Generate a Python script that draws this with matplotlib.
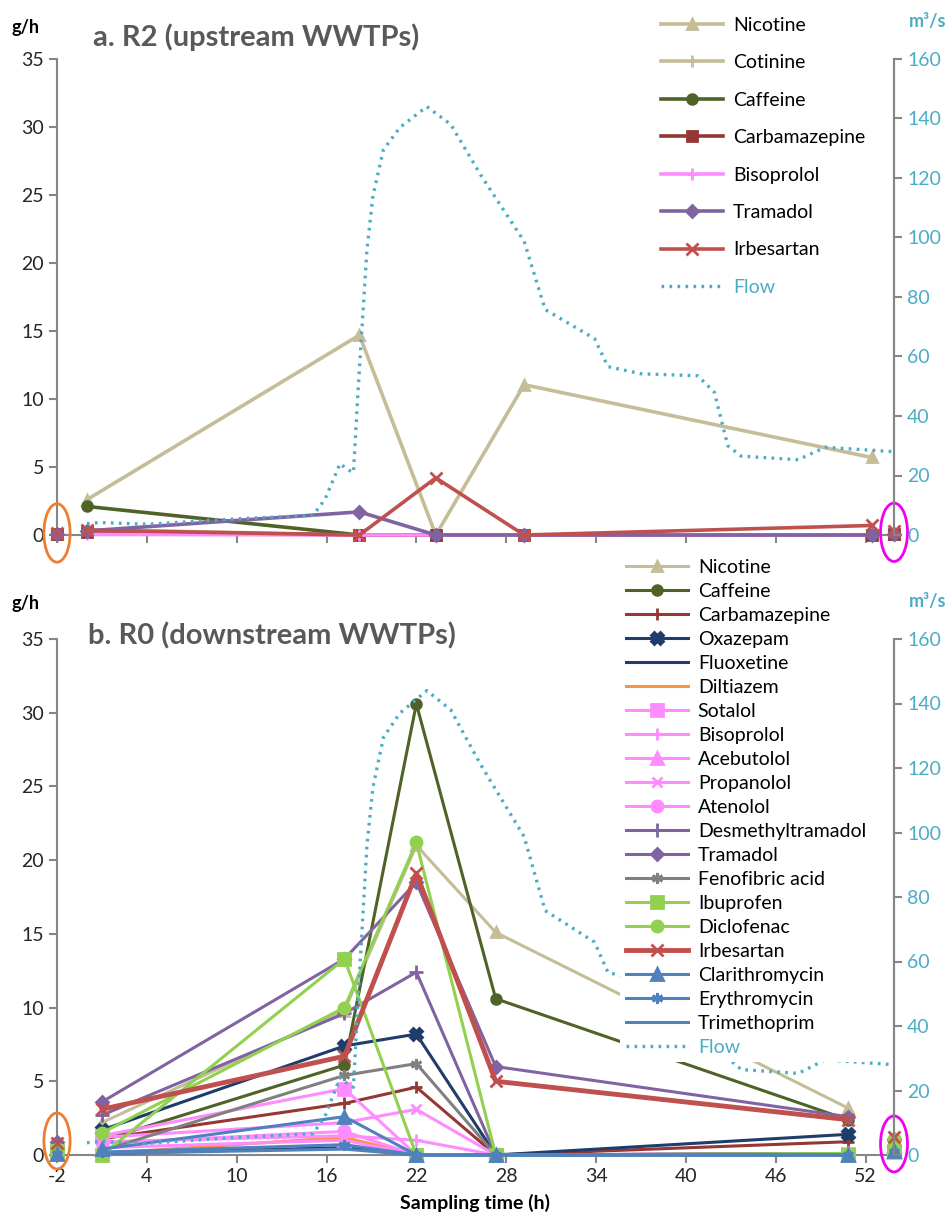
import matplotlib
matplotlib.use('Agg')
import matplotlib.pyplot as plt
from matplotlib.patches import Ellipse

plt.rcParams['font.family'] = ['Lato', 'DejaVu Sans']
plt.rcParams['axes.unicode_minus'] = False

# river flow (m3/s), same hydrograph on both panels
flow_t = [0, 0.9, 4, 9.8, 15.1, 15.9, 16.9, 17.4, 17.8, 18.1, 18.4, 18.7, 19.1, 19.8,
          20.9, 22.7, 24.3, 26.3, 29.2, 30.6, 33.9, 34.8, 37.0, 40.8, 41.9, 42.8,
          43.7, 47.5, 49.3, 53.9]
flow_q = [3.8, 4.2, 3.6, 5.4, 6.6, 12, 24, 22, 21, 48, 72, 96, 114, 129.5,
          137, 144, 138, 121, 98.7, 75.8, 66, 56.6, 54.2, 53.5, 48, 30,
          26.5, 25.3, 29.5, 28]

# a. R2 (upstream)
r2_t = [0, 18.2, 23.3, 29.2, 52.4]
r2_names = ['Nicotine', 'Cotinine', 'Caffeine', 'Carbamazepine', 'Bisoprolol',
            'Tramadol', 'Irbesartan']
r2_values = [
    [2.6, 14.7, 0, 11.05, 5.7],
    [0.4, 0, 0, 0, 0],
    [2.1, 0, 0, 0, 0],
    [0.25, 0, 0, 0, 0],
    [0.05, 0, 0, 0, 0],
    [0.3, 1.7, 0, 0, 0],
    [0.35, 0, 4.2, 0, 0.7],
]
r2_left = [0.1, 0.1, 0.05, 0.1, 0.0, 0.1, 0.15]
r2_right = [0.1, 0.05, 0.05, 0.1, 0.0, 0.05, 0.3]

# b. R0 (downstream)
r0_t = [1, 17.2, 22, 27.3, 50.8]
r0_names = ['Nicotine', 'Caffeine', 'Carbamazepine', 'Oxazepam', 'Fluoxetine',
            'Diltiazem', 'Sotalol', 'Bisoprolol', 'Acebutolol', 'Propanolol',
            'Atenolol', 'Desmethyltramadol', 'Tramadol', 'Fenofibric acid',
            'Ibuprofen', 'Diclofenac', 'Irbesartan', 'Clarithromycin',
            'Erythromycin', 'Trimethoprim']
r0_values = [
    [2.2, 9.8, 21.0, 15.1, 3.2],
    [1.0, 6.1, 30.6, 10.6, 2.4],
    [1.1, 3.5, 4.6, 0, 0.9],
    [1.7, 7.4, 8.2, 0, 1.4],
    [0.1, 0.5, 0, 0, 0.05],
    [0.1, 1.2, 0, 0, 0.05],
    [1.3, 4.5, 0, 0, 0.1],
    [0.9, 1.3, 1.0, 0, 0.1],
    [0.5, 1.0, 0, 0, 0.05],
    [1.2, 2.2, 3.1, 0, 0.1],
    [0.8, 1.6, 0, 0, 0.1],
    [2.7, 9.6, 12.4, 0, 0.1],
    [3.6, 13.3, 18.5, 6.0, 2.6],
    [0.3, 5.4, 6.2, 0, 0.1],
    [0.0, 13.3, 0, 0, 0],
    [1.5, 10.0, 21.2, 0, 0.1],
    [3.1, 6.7, 19.1, 5.0, 2.4],
    [0.4, 2.6, 0, 0, 0],
    [0.2, 0.7, 0, 0, 0],
    [0.1, 0.4, 0, 0, 0],
]
r0_left = [0.4, 0.3, 0.3, 0.2, 0.1, 0.4, 0.2, 0.1, 0.1, 0.1, 0.2, 0.6, 0.85, 0.1,
           0.3, 0.4, 0.8, 0.1, 0.1, 0.05]
r0_right = [0.8, 0.6, 0.3, 0.4, 0.1, 0.5, 0.3, 0.2, 0.2, 0.2, 0.3, 1.0, 1.1, 0.3,
            0.3, 1.1, 1.2, 0.3, 0.2, 0.1]

TAN = '#C4BD97'
OLIVE = '#4F6228'
DRED = '#953735'
NAVY = '#1F3D6B'
ORANGE = '#F79646'
PINK = '#FF8CFF'
PURPLE = '#8064A2'
GREY = '#808080'
LGREEN = '#92D050'
RED = '#C0504D'
BLUE = '#4F81BD'
FLOWC = '#4BACC6'
AST = (6, 2, 0)

style = {
    'Nicotine': (TAN, '^', 7),
    'Cotinine': (TAN, '+', 9),
    'Caffeine': (OLIVE, 'o', 7),
    'Carbamazepine': (DRED, '+', 9),
    'Oxazepam': (NAVY, 'X', 8),
    'Fluoxetine': (NAVY, None, 0),
    'Diltiazem': (ORANGE, '_', 8),
    'Sotalol': (PINK, 's', 8),
    'Bisoprolol': (PINK, '+', 9),
    'Acebutolol': (PINK, '^', 8),
    'Propanolol': (PINK, 'x', 7),
    'Atenolol': (PINK, 'o', 8),
    'Desmethyltramadol': (PURPLE, '+', 10),
    'Tramadol': (PURPLE, 'D', 6),
    'Fenofibric acid': (GREY, AST, 8),
    'Ibuprofen': (LGREEN, 's', 8),
    'Diclofenac': (LGREEN, 'o', 8),
    'Irbesartan': (RED, 'x', 9),
    'Clarithromycin': (BLUE, '^', 9),
    'Erythromycin': (BLUE, AST, 8),
    'Trimethoprim': (BLUE, None, 0),
}
top_style = dict(style)
top_style['Carbamazepine'] = (DRED, 's', 7)

W, H = 953, 1222
fig = plt.figure(figsize=(W / 100, H / 100), dpi=100)
ax_a = fig.add_axes([57 / W, 1 - 535 / H, 837 / W, 476 / H])
ax_b = fig.add_axes([57 / W, 1 - 1155 / H, 837 / W, 516 / H])

xmin, xmax = -2, 53.9


def draw_panel(ax, t, names, values, left, right, styles, lw, title, title_xy,
               ylab_y, unit_y):
    handles = []
    for name, vals, lv, rv in zip(names, values, left, right):
        c, m, ms = styles[name]
        w = lw + 1.3 if name == 'Irbesartan' and ax is ax_b else lw
        h, = ax.plot(t, vals, color=c, lw=w, marker=m, ms=ms, mew=2,
                     label=name, clip_on=False, zorder=3)
        ax.plot([xmin, xmax], [lv, rv], ls='none', color=c, marker=m, ms=ms,
                mew=2, clip_on=False, zorder=3)
        handles.append(h)
    ax.set_xlim(xmin, xmax)
    ax.set_ylim(0, 35)
    ax.set_yticks(range(0, 36, 5))
    ax.set_xticks(range(-2, 53, 6))
    ax.spines['top'].set_visible(False)
    for s in ['left', 'bottom', 'right']:
        ax.spines[s].set_color('#868686')
        ax.spines[s].set_linewidth(1.5)
    ax.tick_params(direction='out', length=6, width=1.5, color='#868686',
                   labelsize=14, labelcolor='#262626')
    fig.text(title_xy[0] / W, 1 - title_xy[1] / H, title, fontsize=21,
             fontweight='bold', color='#595959', va='center')
    fig.text(12 / W, 1 - ylab_y / H, 'g/h', fontsize=13, fontweight='bold',
             va='center')

    axr = ax.twinx()
    fl, = axr.plot(flow_t, flow_q, color=FLOWC, lw=2.4, ls=(0, (0.8, 1.6)),
                   label='Flow', zorder=4)
    axr.set_ylim(0, 160)
    axr.set_yticks(range(0, 161, 20))
    axr.spines['top'].set_visible(False)
    axr.spines['left'].set_visible(False)
    axr.spines['bottom'].set_visible(False)
    axr.spines['right'].set_color('#868686')
    axr.spines['right'].set_linewidth(1.5)
    axr.tick_params(direction='out', length=6, width=1.5, color='#868686',
                    labelsize=14, labelcolor=FLOWC)
    fig.text(928 / W, 1 - unit_y / H, 'm³/s', fontsize=13,
             fontweight='bold', color=FLOWC, ha='center', va='center')
    handles.append(fl)
    return handles


ha = draw_panel(ax_a, r2_t, r2_names, r2_values, r2_left, r2_right, top_style,
                2.6, 'a. R2 (upstream WWTPs)', (93, 37), 28, 22)
ax_a.tick_params(axis='x', labelbottom=False)
hb = draw_panel(ax_b, r0_t, r0_names, r0_values, r0_left, r0_right, style,
                2.2, 'b. R0 (downstream WWTPs)', (88, 636), 604, 601)
ax_b.set_xlabel('Sampling time (h)', fontsize=14, fontweight='bold', labelpad=6)

# highlighted edge values
for ax, yl, yr, h in [(ax_a, 0.15, 0.2, 4.3), (ax_b, 0.95, 0.75, 3.8)]:
    ax.add_patch(Ellipse((xmin, yl), 1.75, h, fill=False, ec='#ED7D31', lw=2,
                         clip_on=False, zorder=6))
    ax.add_patch(Ellipse((xmax, yr), 1.8, h, fill=False, ec='#F000F0', lw=2,
                         clip_on=False, zorder=6))

leg_a = fig.legend(ha, [h.get_label() for h in ha], loc='upper left',
                   bbox_to_anchor=(655 / W, 1 - 11 / H), fontsize=14,
                   frameon=True, facecolor='white', edgecolor='none',
                   framealpha=1, handlelength=3.2, handletextpad=0.5,
                   labelspacing=1.05, borderpad=0.3, borderaxespad=0)
leg_a.get_texts()[-1].set_color(FLOWC)
leg_b = fig.legend(hb, [h.get_label() for h in hb], loc='upper left',
                   bbox_to_anchor=(620 / W, 1 - 553 / H), fontsize=14,
                   frameon=True, facecolor='white', edgecolor='none',
                   framealpha=1, handlelength=3.2, handletextpad=0.5,
                   labelspacing=0.36, borderpad=0.3, borderaxespad=0)
leg_b.get_texts()[-1].set_color(FLOWC)

fig.savefig('out.png', dpi=100)
